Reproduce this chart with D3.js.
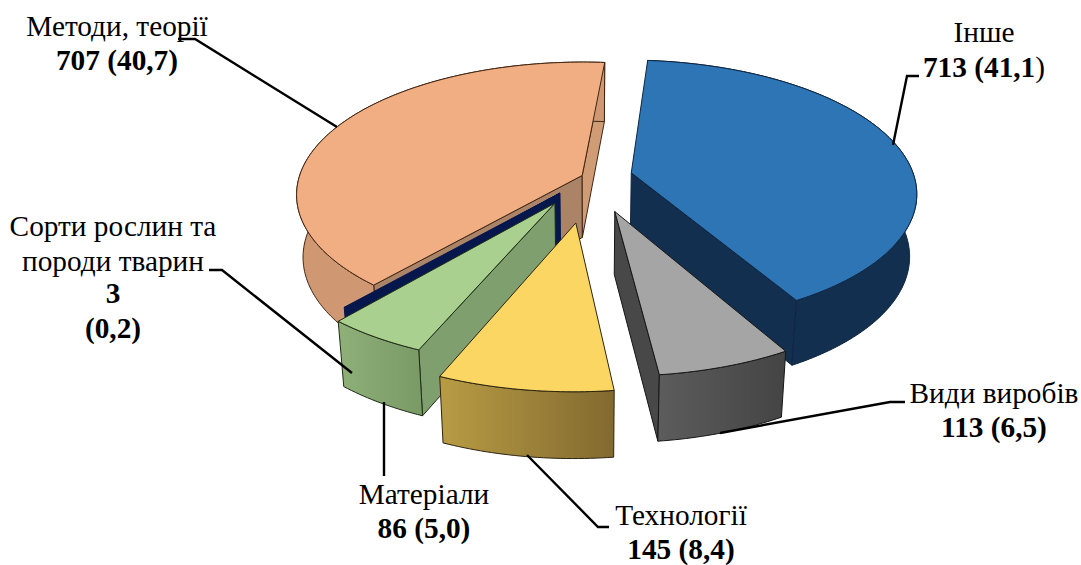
<!DOCTYPE html>
<html><head><meta charset="utf-8">
<style>html,body{margin:0;padding:0;background:#fff}svg{display:block}</style>
<script src="https://cdn.jsdelivr.net/npm/d3@7/dist/d3.min.js"></script>
</head><body><svg id="c" width="1081" height="565"></svg>
<script>
// data (clockwise from the top)
const categories = ["Інше","Види виробів","Технології","Матеріали","Сорти рослин та породи тварин","Методи, теорії"];
const counts = [713,113,145,86,3,707];
const shares = ["41,1","6,5","8,4","5,0","0,2","40,7"];
const explode = [0.15,0.27,0.34,0.23,0.16,0.03];
// styles
const topColors = ["#2e75b6","#a5a5a5","#fbd663","#a9d08e","#06174d","#f1ae82"];
const wallFrom = ["#132f4f","#5c5c5c","#b89c44","#90b07a","#06174d","#cf9872"];
const wallTo = ["#132f4f","#444444","#82692f","#7a9a66","#06174d","#cf9872"];
const startCut = ["#132f4f","#484848","#8a7434","#7f9f6f","#06174d","#ab8468"];
const endCut = ["#132f4f","#484848","#8a7434","#7f9f6f","#06174d","#d09c76"];
const strokes = ["#0d2540","#161616","#2c2410","#1f2c17","#06174d","#3f2513"];
const drawOrder = [5,0,4,3,1,2];

// projection parameters
const cx=590, cy=177, A=283, B=130, persp=7, depth=62;

const svg=d3.select("#c");
const defs=svg.append("defs");
const deg=Math.PI/180;
const arcs=d3.pie().sort(null).startAngle(5*deg).endAngle(365*deg)(counts);

function project(u,v,low){
  const s=persp/(persp-v);
  let x=cx+A*u*s, y=cy+B*v*s;
  if(low){ x=cx+(x-cx)*0.978; y+=depth*Math.pow(s,0.35); }
  return [x,y];
}
const line=d3.line();

arcs.forEach((a,i)=>{
  const mid=(a.startAngle+a.endAngle)/2;
  a.ou=explode[i]*Math.sin(mid);
  a.ov=-explode[i]*Math.cos(mid);
});
function rim(a,t,low){return project(a.ou+Math.sin(t),a.ov-Math.cos(t),low);}
function apex(a,low){return project(a.ou,a.ov,low);}

drawOrder.forEach(i=>{
  const a=arcs[i];
  const n=Math.max(2,Math.ceil((a.endAngle-a.startAngle)/deg));
  const ts=d3.range(n+1).map(k=>a.startAngle+(a.endAngle-a.startAngle)*k/n);
  const g=svg.append("g").attr("class","slice");
  const st=strokes[i];
  const face=(pts,fill)=>g.append("path").attr("d",line(pts)+"Z").attr("fill",fill)
    .attr("stroke",st).attr("stroke-width",1).attr("stroke-linejoin","round");
  // cut faces: only the ones turned towards the viewer
  if(Math.sin(a.startAngle)<0) face([apex(a),rim(a,a.startAngle),rim(a,a.startAngle,true),apex(a,true)],startCut[i]);
  if(Math.sin(a.endAngle)>0) face([apex(a),rim(a,a.endAngle),rim(a,a.endAngle,true),apex(a,true)],endCut[i]);
  // outer wall
  const up=ts.map(t=>rim(a,t)), low=ts.map(t=>rim(a,t,true)).reverse();
  const xs=up.map(p=>p[0]);
  const gid="w"+i;
  const lg=defs.append("linearGradient").attr("id",gid).attr("gradientUnits","userSpaceOnUse")
    .attr("x1",d3.min(xs)).attr("x2",d3.max(xs)).attr("y1",0).attr("y2",0);
  lg.append("stop").attr("offset",0).attr("stop-color",wallFrom[i]);
  lg.append("stop").attr("offset",1).attr("stop-color",wallTo[i]);
  face(up.concat(low),`url(#${gid})`);
  // top face
  face([apex(a)].concat(up),topColors[i]);
});

// leader lines
const leaders=[
 [[178,39],[195,39],[337,127]],
 [[919,76],[907,76],[893,145]],
 [[905,402],[890,402],[720,433]],
 [[609,527],[598,527],[527,455]],
 [[384,402],[384,476]],
 [[209,270],[222,270],[352,373]]
];
svg.append("g").selectAll("path").data(leaders).join("path")
  .attr("d",d=>line(d)).attr("fill","none").attr("stroke","#000").attr("stroke-width",2.4);

// labels
const fs=29.3;
const labels=[
 {x:984,lines:[["Інше",42,0],[null,77,0]]},
 {x:994,lines:[["Види виробів",403,0],[null,437,0]]},
 {x:681,lines:[["Технології",525,0],[null,558.5,0]]},
 {x:424,lines:[["Матеріали",504,0],[null,538,0]]},
 {x:113,lines:[["Сорти рослин та",236,0],["породи тварин",271,0],[String(counts[4]),303,1],["("+shares[4]+")",338,1]]},
 {x:117,lines:[["Методи, теорії",36,0],[null,70,0]]}
];
const tg=svg.append("g").attr("font-family","'Liberation Serif',serif").attr("font-size",fs).attr("fill","#000").attr("text-anchor","middle");
labels.forEach((l,i)=>{
  l.lines.forEach(([t,y,b])=>{
    const el=tg.append("text").attr("x",l.x).attr("y",y);
    if(t===null){
      const s=`${counts[i]} (${shares[i]}`;
      el.append("tspan").attr("font-weight","bold").text(i===0?s:s+")");
      if(i===0) el.append("tspan").text(")");
    } else {
      el.attr("font-weight",b?"bold":"normal").text(t);
    }
  });
});
</script></body></html>
